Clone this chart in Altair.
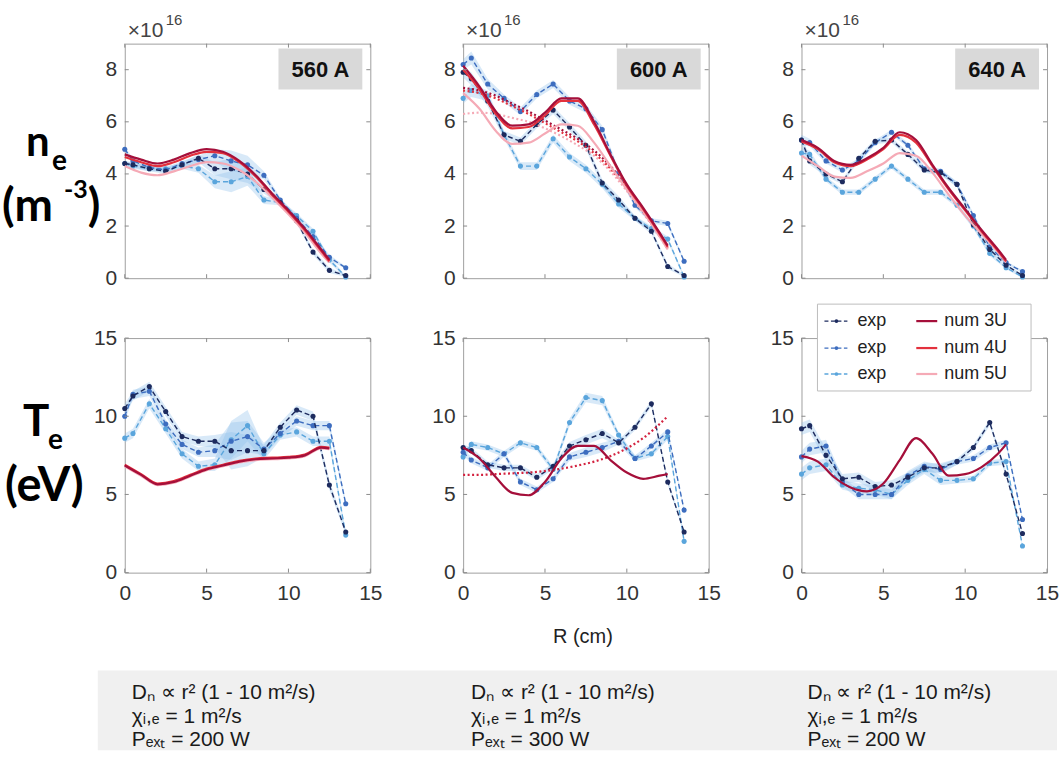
import altair as alt
import pandas as pd

# ---------------- data ----------------
X_EXP = [0, 0.5, 1.5, 2.5, 3.5, 4.5, 5.5, 6.5, 7.5, 8.5, 9.5, 10.5, 11.5, 12.5, 13.5]
X_NUM = [0, 1, 2, 3, 4, 5, 6, 7, 8, 9, 10, 11, 12, 12.5]
X_TICKS = [0, 5, 10, 15]
NE_TICKS = [0, 2, 4, 6, 8]
TE_TICKS = [0, 5, 10, 15]
NE_MAX = 9
TE_MAX = 15
CURRENTS = ["560 A", "600 A", "640 A"]
EXP_LABELS = ["exp", "exp", "exp"]
NUM_LABELS = ["num 3U", "num 4U", "num 5U"]
PARAM_D = ["Dₙ ∝ r² (1 - 10 m²/s)", "Dₙ ∝ r² (1 - 10 m²/s)", "Dₙ ∝ r² (1 - 10 m²/s)"]
PARAM_CHI = ["χᵢ,ₑ = 1 m²/s", "χᵢ,ₑ = 1 m²/s", "χᵢ,ₑ = 1 m²/s"]
PARAM_P = ["Pₑₓₜ = 200 W", "Pₑₓₜ = 300 W", "Pₑₓₜ = 200 W"]

# density n_e (x 1e16 m^-3)
ne560_exp1 = [4.4, 4.35, 4.2, 4.1, 4.35, 4.6, 4.2, 4.2, 4.0, 3.4, 2.9, 2.2, 1.0, 0.3, 0.1]
ne560_exp2 = [4.95, 4.5, 4.25, 4.15, 4.4, 4.55, 4.7, 4.5, 4.35, 3.95, 3.0, 2.3, 1.6, 0.8, 0.4]
ne560_exp3 = [4.4, 4.3, 4.2, 4.2, 4.3, 4.2, 3.7, 3.7, 3.9, 3.0, 2.9, 2.4, 1.8, 0.7, 0.05]
ne560_err = [0.1, 0.1, 0.1, 0.1, 0.1, 0.15, 0.25, 0.4, 0.35, 0.15, 0.1, 0.1, 0.1, 0.1, 0.05]
ne560_num3 = [4.75, 4.55, 4.4, 4.55, 4.8, 4.95, 4.85, 4.5, 3.95, 3.25, 2.6, 1.9, 1.1, 0.7]
ne560_num4 = [4.65, 4.45, 4.3, 4.45, 4.7, 4.85, 4.8, 4.45, 3.9, 3.2, 2.55, 1.85, 1.05, 0.65]
ne560_num5 = [4.3, 4.05, 3.95, 4.1, 4.3, 4.45, 4.4, 4.15, 3.7, 3.1, 2.45, 1.75, 0.95, 0.6]

ne600_exp1 = [7.9, 7.65, 6.8, 5.5, 5.25, 5.9, 6.45, 5.8, 5.1, 3.65, 3.0, 2.3, 1.8, 0.45, 0.1]
ne600_exp2 = [8.2, 8.45, 7.45, 6.9, 6.4, 7.05, 7.45, 6.8, 6.5, 5.7, 4.05, 2.8, 2.2, 2.1, 0.65]
ne600_exp3 = [6.9, 7.2, 7.0, 5.5, 4.3, 4.3, 5.35, 4.65, 4.2, 3.6, 2.85, 2.3, 1.9, 1.5, 0.05]
ne600_err = [0.2, 0.25, 0.2, 0.15, 0.15, 0.15, 0.15, 0.15, 0.15, 0.15, 0.15, 0.1, 0.1, 0.1, 0.05]
ne600_num3 = [8.15, 7.35, 6.4, 5.85, 5.9, 6.35, 6.9, 6.9, 6.0, 4.75, 3.6, 2.7, 1.75, 1.25]
ne600_num4 = [8.0, 7.25, 6.3, 5.75, 5.8, 6.25, 6.8, 6.8, 5.9, 4.7, 3.55, 2.65, 1.7, 1.2]
ne600_num5 = [7.1, 6.5, 5.65, 5.15, 5.2, 5.55, 5.9, 5.85, 5.2, 4.3, 3.4, 2.55, 1.6, 1.1]
ne600_dot3 = [7.3, 7.2, 7.0, 6.7, 6.4, 6.05, 5.7, 5.35, 4.9, 4.3, 3.5, 2.6, 1.7, 1.2]
ne600_dot4 = [7.2, 7.1, 6.9, 6.6, 6.3, 5.95, 5.6, 5.25, 4.8, 4.2, 3.45, 2.55, 1.65, 1.15]
ne600_dot5 = [6.3, 6.35, 6.3, 6.15, 6.0, 5.75, 5.45, 5.1, 4.7, 4.1, 3.35, 2.5, 1.6, 1.1]

ne640_exp1 = [5.3, 4.5, 4.0, 3.7, 4.6, 5.25, 5.3, 4.75, 4.15, 4.05, 3.6, 2.05, 1.1, 0.5, 0.1]
ne640_exp2 = [5.3, 5.2, 4.5, 4.15, 4.5, 5.2, 5.6, 5.1, 4.2, 4.1, 3.6, 2.4, 1.2, 0.6, 0.25]
ne640_exp3 = [4.8, 4.75, 3.8, 3.3, 3.3, 3.8, 4.3, 3.8, 3.3, 3.3, 2.8, 2.0, 0.95, 0.4, 0.05]
ne640_err = [0.2, 0.15, 0.1, 0.1, 0.1, 0.1, 0.1, 0.1, 0.1, 0.1, 0.1, 0.1, 0.1, 0.05, 0.05]
ne640_num3 = [5.3, 5.0, 4.5, 4.35, 4.6, 5.0, 5.6, 5.3, 4.35, 3.45, 2.65, 1.85, 1.1, 0.7]
ne640_num4 = [5.25, 4.95, 4.45, 4.3, 4.55, 4.95, 5.5, 5.2, 4.3, 3.4, 2.6, 1.8, 1.05, 0.65]
ne640_num5 = [4.7, 4.3, 3.9, 3.85, 4.1, 4.4, 4.8, 4.7, 4.05, 3.2, 2.4, 1.7, 1.0, 0.6]

# temperature T_e (eV)
te560_exp1 = [10.5, 11.3, 11.9, 10.3, 8.7, 8.4, 8.4, 7.8, 7.8, 7.8, 9.3, 10.4, 10.0, 5.6, 2.6]
te560_exp2 = [10.0, 11.4, 11.6, 9.5, 8.2, 7.7, 7.8, 8.4, 8.7, 7.9, 8.9, 9.7, 9.4, 9.4, 4.4]
te560_exp3 = [8.6, 8.9, 10.8, 9.2, 7.6, 6.8, 6.9, 8.5, 9.4, 7.6, 8.8, 9.0, 8.4, 8.4, 2.4]
te560_err = [0.3, 0.3, 0.3, 0.3, 0.3, 0.3, 0.4, 1.2, 1.0, 0.4, 0.3, 0.3, 0.3, 0.3, 0.2]
te560_num3 = [6.85, 6.25, 5.65, 5.8, 6.2, 6.6, 6.85, 7.1, 7.25, 7.3, 7.35, 7.5, 8.0, 7.95]
te560_num4 = [6.9, 6.3, 5.7, 5.85, 6.25, 6.65, 6.9, 7.15, 7.3, 7.35, 7.4, 7.55, 8.05, 8.0]
te560_num5 = [6.8, 6.2, 5.6, 5.75, 6.15, 6.55, 6.8, 7.05, 7.2, 7.25, 7.3, 7.45, 7.95, 7.9]

te600_exp1 = [8.0, 7.8, 6.9, 6.7, 6.7, 6.1, 6.8, 8.1, 8.5, 8.9, 8.3, 9.3, 10.8, 5.8, 2.6]
te600_exp2 = [7.7, 7.2, 6.7, 7.6, 5.8, 5.3, 6.0, 7.4, 7.7, 8.0, 8.4, 7.3, 8.1, 9.0, 4.0]
te600_exp3 = [7.4, 8.2, 8.0, 7.6, 8.3, 8.0, 6.6, 9.6, 11.2, 11.0, 8.8, 7.3, 7.6, 8.7, 2.0]
te600_err = [0.2, 0.2, 0.2, 0.2, 0.2, 0.2, 0.2, 0.25, 0.3, 0.3, 0.2, 0.2, 0.2, 0.2, 0.1]
te600_num3 = [8.0, 7.3, 6.1, 5.1, 4.95, 5.8, 7.3, 8.1, 8.1, 7.2, 6.4, 6.0, 6.2, 6.3]
te600_dot3 = [6.25, 6.25, 6.3, 6.35, 6.4, 6.5, 6.65, 6.85, 7.1, 7.45, 7.95, 8.6, 9.5, 10.0]

te640_exp1 = [9.2, 9.4, 7.5, 6.0, 6.1, 5.5, 5.6, 6.1, 6.7, 6.7, 7.1, 8.0, 9.6, 6.3, 2.5]
te640_exp2 = [7.4, 7.9, 8.1, 5.8, 5.0, 5.0, 5.0, 6.2, 6.8, 6.6, 7.1, 7.3, 8.0, 8.3, 3.4]
te640_exp3 = [6.3, 6.7, 6.9, 5.6, 5.4, 5.3, 5.0, 5.9, 6.6, 5.9, 5.9, 6.0, 7.0, 7.1, 1.7]
te640_err = [0.4, 0.4, 0.4, 0.3, 0.3, 0.3, 0.3, 0.3, 0.3, 0.3, 0.2, 0.2, 0.2, 0.2, 0.1]
te640_num3 = [7.45, 7.1, 6.1, 5.45, 5.2, 5.7, 7.2, 8.6, 7.6, 6.2, 6.3, 6.75, 7.6, 8.2]

# ---------------- styling ----------------
W, H = 246, 235
NAVY, MID, LIGHT, BAND = "#1d2b5e", "#3d6dbf", "#5aa5dc", "#8fc0ea"
C3U, C4U, C5U = "#a50f3a", "#e3313d", "#f5aab6"
EXP_COLORS = [NAVY, MID, LIGHT]
NUM_COLORS = [C3U, C4U, C5U]
TICK = "#8c8c8c"
AX_FONT = "Liberation Sans"
NARROW = "Liberation Sans Narrow, Liberation Sans"
BOLD_FONT = "Lato"


def one():
    return pd.DataFrame({"k": [0]})


def xenc(show):
    return alt.X("x:Q", scale=alt.Scale(domain=[0, 15], nice=False, zero=False),
                 axis=alt.Axis(values=X_TICKS, labels=show, title=None, labelPadding=10,
                               labelFlush=False))


def yenc(field, ymax, ticks):
    return alt.Y(f"{field}:Q", scale=alt.Scale(domain=[0, ymax], nice=False, zero=False),
                 axis=alt.Axis(values=ticks, title=None, labelPadding=8, labelFlush=False))


def label(text, x, y, size, color="#222222", font=AX_FONT, weight="normal",
          align="left", baseline="alphabetic"):
    return alt.Chart(pd.DataFrame({"t": [text]})).mark_text(
        align=align, baseline=baseline, font=font, fontSize=size,
        fontWeight=weight, color=color
    ).encode(x=alt.value(x), y=alt.value(y), text="t:N")


def box(x, x2, y, y2, fill, stroke=None, opacity=1.0):
    kw = dict(fill=fill, opacity=opacity)
    if stroke:
        kw.update(stroke=stroke, strokeWidth=1)
    return alt.Chart(one()).mark_rect(**kw).encode(
        x=alt.value(x), x2=alt.value(x2), y=alt.value(y), y2=alt.value(y2))


def seg(x1, x2, y, color, dash=None, width=1.5):
    kw = dict(color=color, strokeWidth=width)
    if dash:
        kw["strokeDash"] = dash
    return alt.Chart(one()).mark_rule(**kw).encode(
        x=alt.value(x1), x2=alt.value(x2), y=alt.value(y))


def dot(x, y, color):
    return alt.Chart(one()).mark_circle(size=14, color=color, opacity=1).encode(
        x=alt.value(x), y=alt.value(y))


def panel(exps, err, nums, dots, ymax, yticks, show_x, extra_top=None, extra=None):
    layers = []
    if extra_top:
        layers += extra_top
    # uncertainty bands
    rows = []
    for i, vals in enumerate(exps):
        for x, v, e in zip(X_EXP, vals, err):
            rows.append({"x": x, "y": v, "lo": v - e, "hi": v + e, "s": f"e{i}"})
    edf = pd.DataFrame(rows)
    layers.append(alt.Chart(edf).mark_area(color=BAND, opacity=0.35).encode(
        x=xenc(show_x), y=yenc("lo", ymax, yticks), y2="hi:Q", detail="s:N"))
    # experimental dashed lines + markers (light first, navy on top)
    for i in [2, 1, 0]:
        df = pd.DataFrame({"x": X_EXP, "y": exps[i]})
        layers.append(alt.Chart(df).mark_line(
            color=EXP_COLORS[i], strokeWidth=1.4, strokeDash=[5, 3]).encode(
            x=xenc(show_x), y=yenc("y", ymax, yticks)))
        layers.append(alt.Chart(df).mark_circle(
            color=EXP_COLORS[i], size=26, opacity=1).encode(
            x=xenc(show_x), y=yenc("y", ymax, yticks)))
    # dotted simulation variants
    for vals, col in dots:
        df = pd.DataFrame({"x": X_NUM, "y": vals})
        layers.append(alt.Chart(df).mark_line(
            color=col, strokeWidth=2.2, strokeDash=[2, 2.5], interpolate="monotone").encode(
            x=xenc(show_x), y=yenc("y", ymax, yticks)))
    # simulations (5U first, 3U on top)
    for vals, col in nums:
        df = pd.DataFrame({"x": X_NUM, "y": vals})
        layers.append(alt.Chart(df).mark_line(
            color=col, strokeWidth=2.2, interpolate="monotone").encode(
            x=xenc(show_x), y=yenc("y", ymax, yticks)))
    # inward ticks on all four sides
    xt = alt.Chart(pd.DataFrame({"x": X_TICKS})).mark_rule(color=TICK, strokeWidth=1)
    yt = alt.Chart(pd.DataFrame({"y": yticks})).mark_rule(color=TICK, strokeWidth=1)
    layers += [
        xt.encode(x=xenc(show_x), y=alt.value(H), y2=alt.value(H - 4)),
        xt.encode(x=xenc(show_x), y=alt.value(0), y2=alt.value(4)),
        yt.encode(y=yenc("y", ymax, yticks), x=alt.value(0), x2=alt.value(4)),
        yt.encode(y=yenc("y", ymax, yticks), x=alt.value(W), x2=alt.value(W - 4)),
    ]
    if extra:
        layers += extra
    return alt.layer(*layers).properties(width=W, height=H)


def top_annot(cur):
    return [
        label("×10", 3, -7, 21, color="#444444"),
        label("16", 41, -19, 15, color="#444444"),
        box(154, 238, 5, 46, "#d9d9d9"),
        label(cur, 196, 33, 22, color="#111111", weight="bold", align="center"),
    ]


# frame that fixes the page extent (0,0)-(1058,750), relative to the first panel
frame = box(-124, 934, -42, 708, "#ffffff", opacity=0)

row_ne = [
    label("n", -99, 113, 42, color="#000000", font=BOLD_FONT, weight="bold"),
    label("e", -73, 127, 28, color="#000000", font=BOLD_FONT, weight="bold"),
    label("(m", -123, 178, 46, color="#000000", font=BOLD_FONT, weight="bold"),
    label("-3", -61, 155, 25, color="#000000", font=BOLD_FONT, weight="bold"),
    label(")", -37, 178, 46, color="#000000", font=BOLD_FONT, weight="bold"),
]
row_te = [
    label("T", -102, 98, 44, color="#000000", font=BOLD_FONT, weight="bold"),
    label("e", -77, 111, 28, color="#000000", font=BOLD_FONT, weight="bold"),
    label("(eV)", -120, 163, 47, color="#000000", font=BOLD_FONT, weight="bold"),
]

# bottom parameter box (placed relative to bottom-left panel)
params = [box(-27, 934, 333, 413, "#f0f0f0")]
for i, dx in enumerate([7, 347, 684]):
    params += [
        label(PARAM_D[i], dx, 362, 21, color="#1a1a1a", font=NARROW),
        label(PARAM_CHI[i], dx, 386, 21, color="#1a1a1a", font=NARROW),
        label(PARAM_P[i], dx, 409, 21, color="#1a1a1a", font=NARROW),
    ]

# legend (placed relative to bottom-right panel)
legend = [box(16, 230, -34, 53, "#ffffff", stroke="#bdbdbd")]
for j, yy in enumerate([-17, 10, 36]):
    legend += [
        seg(23, 46, yy, EXP_COLORS[j], dash=[4, 2.5], width=1.3),
        dot(35, yy, EXP_COLORS[j]),
        label(EXP_LABELS[j], 56, yy, 18, color="#222222", baseline="middle"),
        seg(115, 136, yy, NUM_COLORS[j], width=2.2),
        label(NUM_LABELS[j], 143, yy, 18, color="#222222", baseline="middle"),
    ]

xlabel = [label("R (cm)", 120, 306, 20, color="#222222", font=NARROW, align="center")]

p11 = panel([ne560_exp1, ne560_exp2, ne560_exp3], ne560_err,
            [(ne560_num5, C5U), (ne560_num4, C4U), (ne560_num3, C3U)], [],
            NE_MAX, NE_TICKS, False, extra_top=[frame], extra=top_annot(CURRENTS[0]) + row_ne)
p12 = panel([ne600_exp1, ne600_exp2, ne600_exp3], ne600_err,
            [(ne600_num5, C5U), (ne600_num4, C4U), (ne600_num3, C3U)],
            [(ne600_dot5, C5U), (ne600_dot4, C4U), (ne600_dot3, C3U)],
            NE_MAX, NE_TICKS, False, extra=top_annot(CURRENTS[1]))
p13 = panel([ne640_exp1, ne640_exp2, ne640_exp3], ne640_err,
            [(ne640_num5, C5U), (ne640_num4, C4U), (ne640_num3, C3U)], [],
            NE_MAX, NE_TICKS, False, extra=top_annot(CURRENTS[2]))
p21 = panel([te560_exp1, te560_exp2, te560_exp3], te560_err,
            [(te560_num5, C5U), (te560_num4, C4U), (te560_num3, C3U)], [],
            TE_MAX, TE_TICKS, True, extra_top=params, extra=row_te)
p22 = panel([te600_exp1, te600_exp2, te600_exp3], te600_err,
            [(te600_num3, C3U)], [(te600_dot3, "#d3223f")],
            TE_MAX, TE_TICKS, True, extra=xlabel)
p23 = panel([te640_exp1, te640_exp2, te640_exp3], te640_err,
            [(te640_num3, C3U)], [],
            TE_MAX, TE_TICKS, True, extra=legend)

chart = alt.concat(p11, p12, p13, p21, p22, p23, columns=3,
                   spacing={"row": 60, "column": 93}, bounds="flush").properties(
    padding={"left": 0, "top": 0, "right": 0, "bottom": 0},
    background="white",
).configure_view(
    stroke="#a0a0a0", strokeWidth=1
).configure_axis(
    labelFont=AX_FONT, labelFontSize=21, labelColor="#333333",
    domain=False, ticks=False, grid=False, labelFlush=False
)

chart.save("out.html", embed_options={"renderer": "svg", "actions": False})
